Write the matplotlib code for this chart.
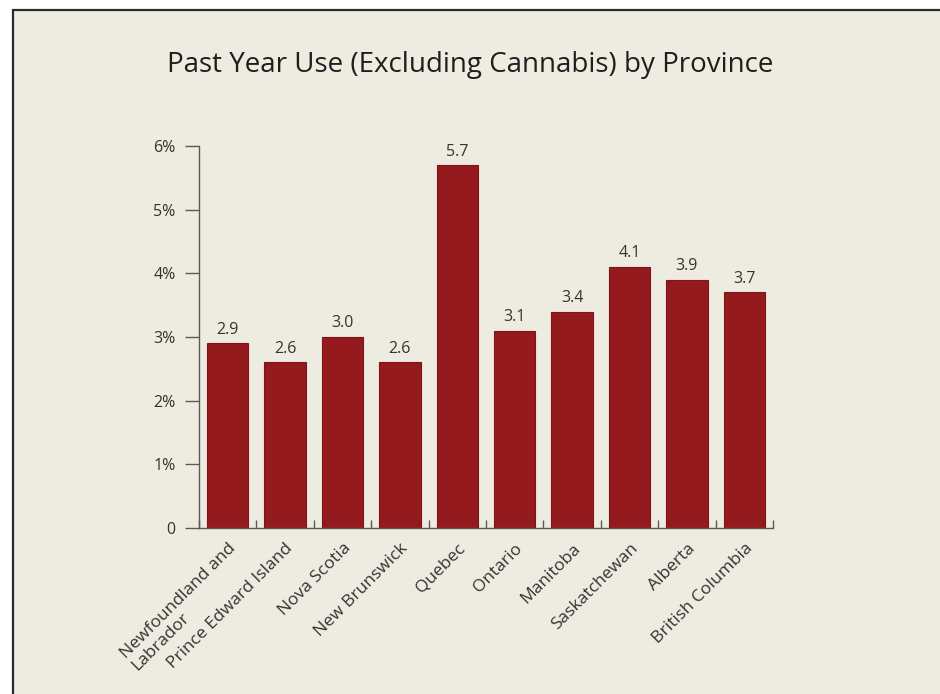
import matplotlib.pyplot as plt
from matplotlib.patches import Rectangle
import numpy as np

provinces = ['Newfoundland and\nLabrador', 'Prince Edward Island', 'Nova Scotia',
             'New Brunswick', 'Quebec', 'Ontario', 'Manitoba', 'Saskatchewan',
             'Alberta', 'British Columbia']
use_pct = [2.9, 2.6, 3.0, 2.6, 5.7, 3.1, 3.4, 4.1, 3.9, 3.7]
y_ticks = [0, 1, 2, 3, 4, 5, 6]
y_labels = ['0', '1%', '2%', '3%', '4%', '5%', '6%']

bg = '#eeebe1'
bar_col = '#951a1e'
axis_col = '#5a5a5a'
text_col = '#333333'

plt.rcParams['font.family'] = ['Open Sans', 'DejaVu Sans']

fig = plt.figure(figsize=(9.4, 6.94), dpi=100)
fig.patch.set_facecolor('white')
# framed panel behind the chart
fig.patches.append(Rectangle((13 / 940, -0.01), 930 / 940, 1 - 10 / 694 + 0.01,
                             transform=fig.transFigure, facecolor=bg,
                             edgecolor='#2a2a2a', linewidth=1.6, zorder=-1))

ax = fig.add_axes([199 / 940, 1 - 528 / 694, 574 / 940, 382 / 694])
ax.set_facecolor('none')

x = np.arange(len(provinces))
bars = ax.bar(x, use_pct, width=0.72, color=bar_col, edgecolor='#7e1418',
              linewidth=0.8)
for xi, v in zip(x, use_pct):
    ax.annotate(f'{v:.1f}', (xi, v), xytext=(0, 4), textcoords='offset points',
                ha='center', va='bottom', fontsize=11.5, color=text_col)

ax.set_xlim(-0.5, len(provinces) - 0.5)
ax.set_ylim(0, 6)
ax.set_yticks(y_ticks)
ax.set_yticklabels(y_labels, fontsize=11.5, color=text_col)
ax.tick_params(axis='y', direction='out', length=10, width=1, color=axis_col, pad=7)

# category labels on minor ticks, small inward ticks between bars
ax.set_xticks(np.arange(len(provinces) + 1) - 0.5)
ax.set_xticklabels([])
ax.tick_params(axis='x', which='major', direction='in', length=6, width=1, color=axis_col)
ax.set_xticks(x, minor=True)
ax.set_xticklabels(provinces, minor=True, rotation=45, ha='right',
                   rotation_mode='anchor', fontsize=12.5, color=text_col,
                   linespacing=1.0, multialignment='left')
ax.tick_params(axis='x', which='minor', length=0, pad=9)

for side in ['top', 'right']:
    ax.spines[side].set_visible(False)
for side in ['left', 'bottom']:
    ax.spines[side].set_color(axis_col)
    ax.spines[side].set_linewidth(1)

fig.text(0.5, 1 - 65 / 694, 'Past Year Use (Excluding Cannabis) by Province',
         ha='center', va='center', fontsize=20, color='#1e1e1e')

fig.savefig('out.png', dpi=100, facecolor=fig.get_facecolor())
